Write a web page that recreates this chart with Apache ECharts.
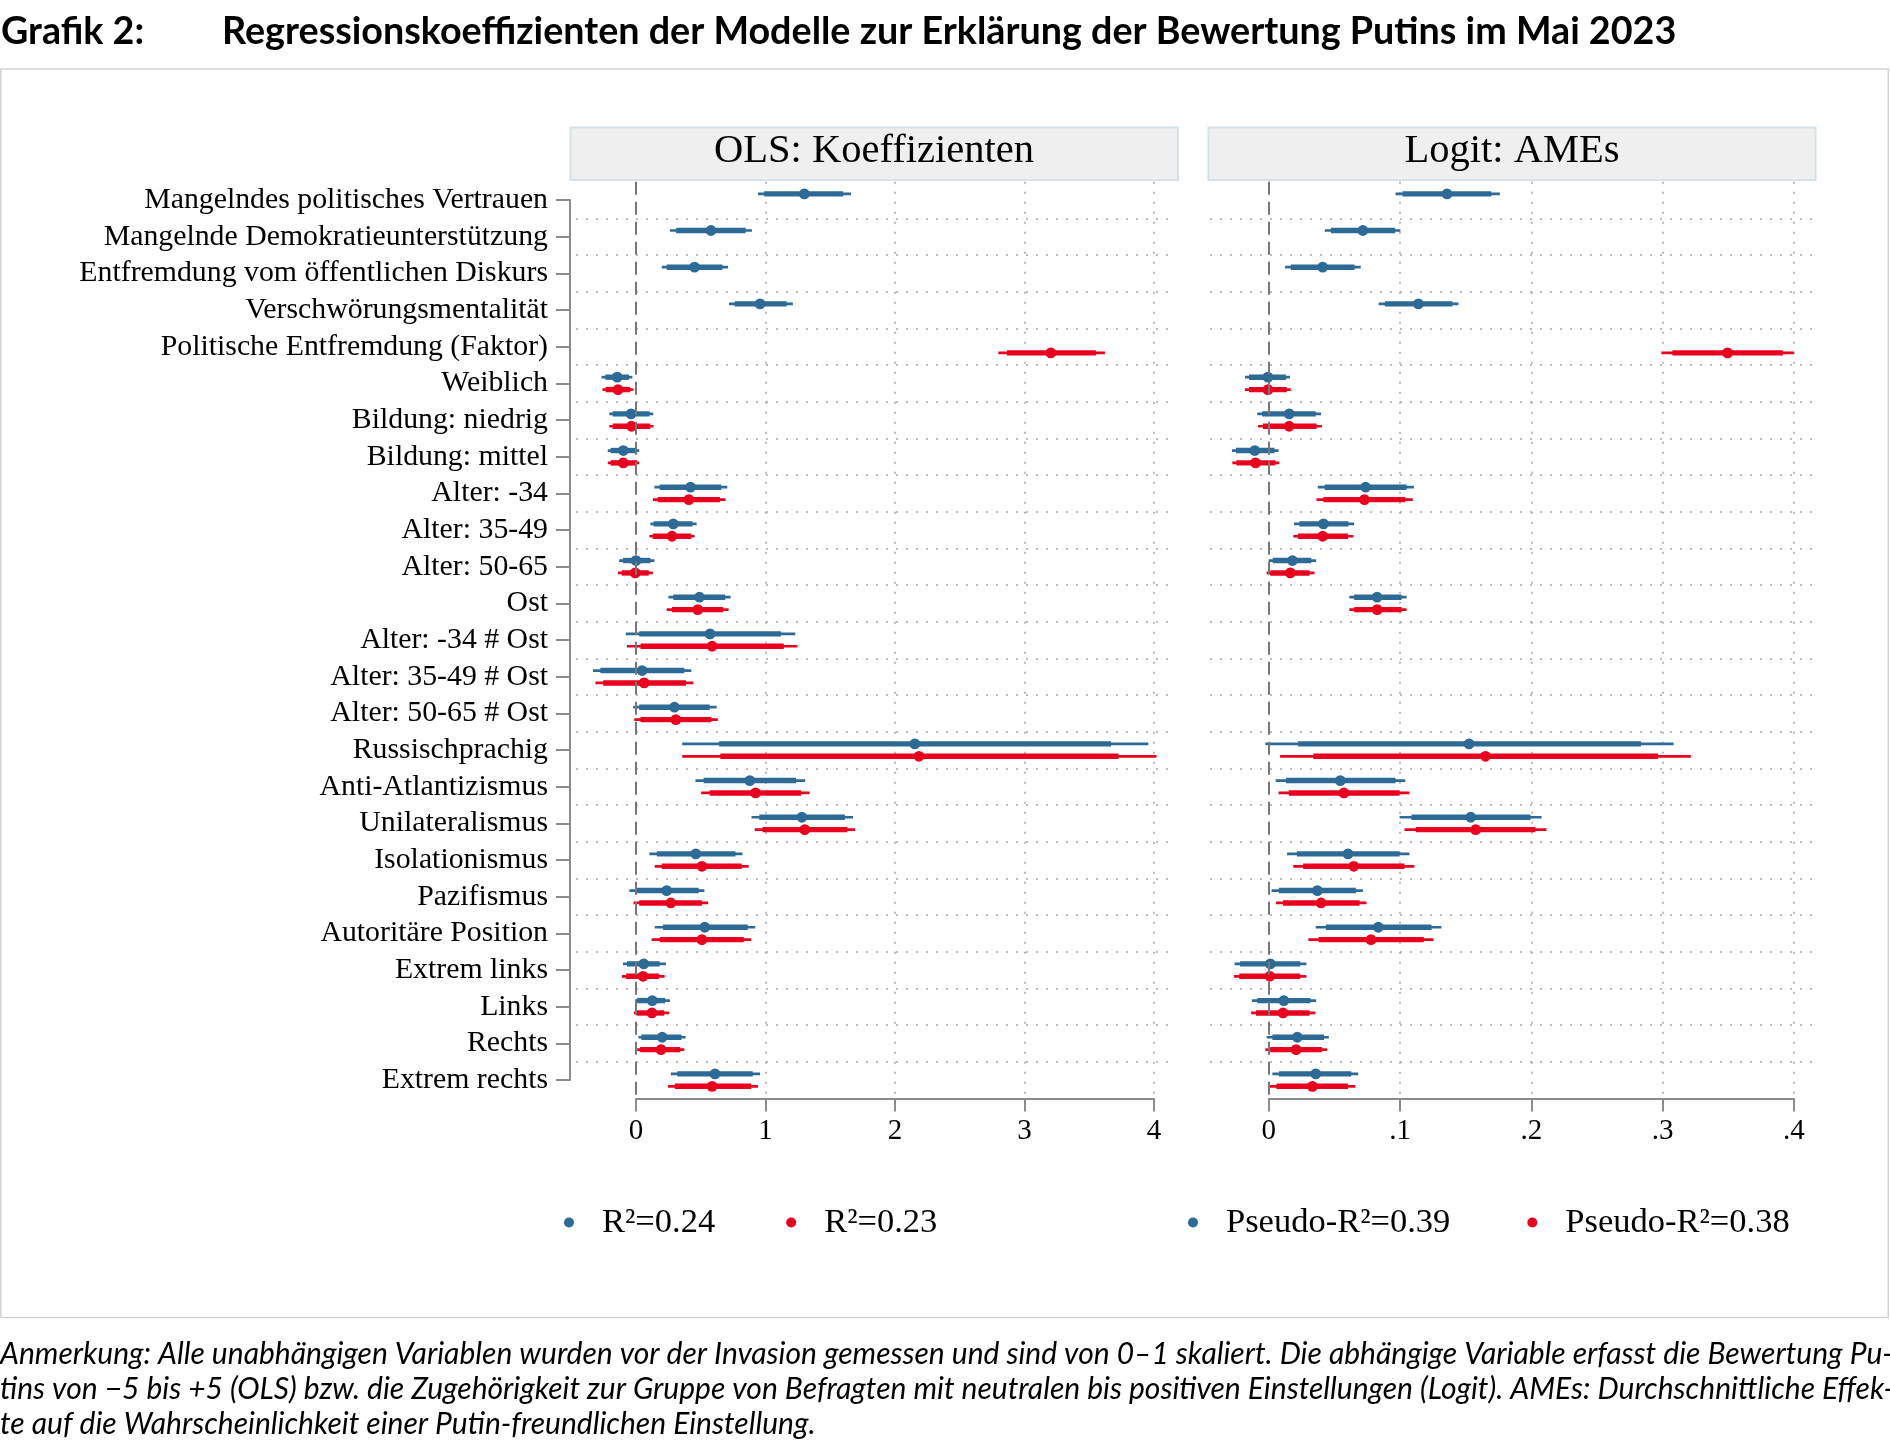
<!DOCTYPE html>
<html>
<head>
<meta charset="utf-8">
<script src="https://cdn.jsdelivr.net/npm/echarts@6/dist/echarts.min.js"></script>
<style>html,body{margin:0;padding:0;background:#fff}#c{width:1890px;height:1446px}</style>
</head>
<body>
<div id="c"></div>
<script>
// ---------- data ----------
const categories = [
  'Mangelndes politisches Vertrauen','Mangelnde Demokratieunterstützung','Entfremdung vom öffentlichen Diskurs',
  'Verschwörungsmentalität','Politische Entfremdung (Faktor)','Weiblich','Bildung: niedrig','Bildung: mittel',
  'Alter: -34','Alter: 35-49','Alter: 50-65','Ost','Alter: -34 # Ost','Alter: 35-49 # Ost','Alter: 50-65 # Ost',
  'Russischprachig','Anti-Atlantizismus','Unilateralismus','Isolationismus','Pazifismus','Autoritäre Position',
  'Extrem links','Links','Rechts','Extrem rechts'
];
const olsTicks = [0, 1, 2, 3, 4];
const logitTicks = [0, 0.1, 0.2, 0.3, 0.4];
const legendNames = ['R²=0.24', 'R²=0.23', 'Pseudo-R²=0.39', 'Pseudo-R²=0.38'];

// OLS, model 1 (blue)
const olsBlueEst  = [1.300,0.579,0.452,0.958,null,-0.145,-0.038,-0.098,0.421,0.288,0.000,0.490,0.572,0.047,0.297,2.153,0.879,1.281,0.462,0.237,0.531,0.060,0.126,0.202,0.610];
const olsBlueLo95 = [0.942,0.262,0.199,0.718,null,-0.266,-0.206,-0.218,0.142,0.111,-0.130,0.250,-0.079,-0.332,-0.022,0.357,0.459,0.892,0.104,-0.051,0.145,-0.101,-0.006,0.019,0.269];
const olsBlueHi95 = [1.660,0.895,0.711,1.211,null,-0.028,0.133,0.025,0.705,0.468,0.142,0.730,1.230,0.427,0.623,3.956,1.306,1.676,0.822,0.528,0.920,0.231,0.262,0.383,0.958];
const olsBlueLo90 = [0.990,0.310,0.237,0.762,null,-0.237,-0.180,-0.196,0.183,0.136,-0.101,0.288,0.025,-0.275,0.025,0.642,0.522,0.952,0.161,-0.006,0.209,-0.070,0.009,0.041,0.319];
const olsBlueHi90 = [1.600,0.847,0.667,1.164,null,-0.054,0.104,0.009,0.658,0.436,0.111,0.689,1.119,0.373,0.569,3.668,1.236,1.613,0.768,0.484,0.863,0.183,0.225,0.351,0.901];
// OLS, model 2 (red)
const olsRedEst  = [null,null,null,null,3.203,-0.139,-0.035,-0.098,0.408,0.278,-0.006,0.477,0.588,0.063,0.307,2.185,0.923,1.303,0.509,0.269,0.509,0.054,0.123,0.193,0.588];
const olsRedLo95 = [null,null,null,null,2.798,-0.259,-0.206,-0.218,0.130,0.104,-0.139,0.237,-0.070,-0.313,-0.013,0.357,0.503,0.917,0.145,-0.019,0.120,-0.108,-0.016,0.009,0.247];
const olsRedHi95 = [null,null,null,null,3.621,-0.019,0.136,0.025,0.692,0.452,0.130,0.715,1.246,0.443,0.632,4.019,1.341,1.692,0.870,0.557,0.889,0.221,0.256,0.373,0.942];
const olsRedLo90 = [null,null,null,null,2.865,-0.234,-0.180,-0.196,0.168,0.130,-0.111,0.278,0.035,-0.253,0.035,0.651,0.569,0.977,0.199,0.025,0.183,-0.076,0.003,0.032,0.300];
const olsRedHi90 = [null,null,null,null,3.551,-0.044,0.110,0.009,0.648,0.427,0.098,0.673,1.141,0.386,0.582,3.725,1.274,1.632,0.816,0.509,0.832,0.177,0.218,0.342,0.889];
// Logit AMEs, model 1 (blue)
const logBlueEst  = [0.1358,0.0717,0.0411,0.1140,null,-0.0006,0.0156,-0.0106,0.0738,0.0417,0.0181,0.0826,null,null,null,0.1526,0.0545,0.1539,0.0604,0.0371,0.0835,0.0012,0.0115,0.0218,0.0358];
const logBlueLo95 = [0.0966,0.0427,0.0125,0.0838,null,-0.0181,-0.0087,-0.0280,0.0374,0.0193,0.0000,0.0614,null,null,null,-0.0025,0.0053,0.0997,0.0140,0.0022,0.0358,-0.0259,-0.0128,-0.0016,0.0028];
const logBlueHi95 = [0.1760,0.1003,0.0701,0.1445,null,0.0162,0.0399,0.0075,0.1106,0.0651,0.0361,0.1050,null,null,null,0.3084,0.1040,0.2078,0.1072,0.0717,0.1315,0.0287,0.0361,0.0458,0.0682];
const logBlueLo90 = [0.1019,0.0474,0.0168,0.0885,null,-0.0150,-0.0050,-0.0249,0.0427,0.0234,0.0031,0.0651,null,null,null,0.0224,0.0131,0.1087,0.0215,0.0078,0.0436,-0.0218,-0.0087,0.0028,0.0078];
const logBlueHi90 = [0.1695,0.0963,0.0654,0.1399,null,0.0131,0.0358,0.0044,0.1050,0.0607,0.0324,0.1012,null,null,null,0.2835,0.0966,0.1994,0.0997,0.0664,0.1240,0.0240,0.0318,0.0421,0.0629];
// Logit AMEs, model 2 (red)
const logRedEst  = [null,null,null,null,0.3495,-0.0006,0.0156,-0.0100,0.0729,0.0411,0.0165,0.0826,null,null,null,0.1651,0.0573,0.1576,0.0648,0.0399,0.0779,0.0009,0.0109,0.0209,0.0333];
const logRedLo95 = [null,null,null,null,0.2991,-0.0181,-0.0081,-0.0277,0.0364,0.0187,-0.0016,0.0614,null,null,null,0.0087,0.0075,0.1034,0.0187,0.0056,0.0302,-0.0265,-0.0134,-0.0025,0.0009];
const logRedHi95 = [null,null,null,null,0.4000,0.0168,0.0405,0.0081,0.1097,0.0645,0.0349,0.1050,null,null,null,0.3215,0.1072,0.2115,0.1109,0.0745,0.1255,0.0287,0.0355,0.0445,0.0660];
const logRedLo90 = [null,null,null,null,0.3075,-0.0150,-0.0044,-0.0246,0.0417,0.0224,0.0012,0.0651,null,null,null,0.0340,0.0153,0.1121,0.0262,0.0109,0.0380,-0.0224,-0.0097,0.0012,0.0059];
const logRedHi90 = [null,null,null,null,0.3916,0.0137,0.0364,0.0050,0.1040,0.0604,0.0312,0.1012,null,null,null,0.2966,0.0997,0.2031,0.1034,0.0692,0.1181,0.0240,0.0312,0.0405,0.0604];

// ---------- styling ----------
const BLUE = '#2d6a96', RED = '#e8001e';
const SERIF = '"Liberation Serif", "Times New Roman", serif';
const AXIS_GRAY = '#8c8c8c', GRID_GRAY = '#a8a8a8';

function rows(est, lo95, hi95, lo90, hi90) {
  const out = [];
  for (let i = 0; i < est.length; i++) {
    if (est[i] !== null) out.push([i, est[i], lo95[i], hi95[i], lo90[i], hi90[i]]);
  }
  return out;
}
function ciRender(sign, color) {
  return function (params, api) {
    const r = api.value(0);
    const band = api.size([0, 1])[1];
    const y = api.coord([0, r])[1] + sign * band * 0.169;
    const x = v => api.coord([v, r])[0];
    return {
      type: 'group',
      children: [
        { type: 'line', shape: { x1: x(api.value(2)), y1: y, x2: x(api.value(3)), y2: y }, style: { stroke: color, lineWidth: 2.7 } },
        { type: 'line', shape: { x1: x(api.value(4)), y1: y, x2: x(api.value(5)), y2: y }, style: { stroke: color, lineWidth: 5.4 } },
        { type: 'circle', shape: { cx: x(api.value(1)), cy: y, r: 5.4 }, style: { fill: color } }
      ]
    };
  };
}
const TOP = 181.7, ROWH = 36.67, H = ROWH * categories.length;

const dotted = { show: true, interval: 0, showMinLine: false, showMaxLine: false, lineStyle: { color: GRID_GRAY, type: [2, 8], width: 1.6 } };
const vdotted = { show: true, showMinLine: false, showMaxLine: true, lineStyle: { color: GRID_GRAY, type: [2, 8], width: 1.6 } };
const zeroLine = {
  silent: true, symbol: 'none', label: { show: false },
  lineStyle: { color: '#777777', type: [13, 7], width: 2 },
  data: [{ xAxis: 0 }]
};
const hiddenX = { type: 'value', show: false, min: 0, max: 1 };
function catY(gridIndex, extra) {
  return Object.assign({
    type: 'category', gridIndex, data: categories, inverse: true, boundaryGap: true,
    axisLine: { show: false }, axisTick: { show: false }, axisLabel: { show: false }, splitLine: { show: false }
  }, extra || {});
}
function valueX(gridIndex, ticks, fmt) {
  return {
    type: 'value', gridIndex, min: ticks[0], max: ticks[ticks.length - 1], interval: ticks[1] - ticks[0],
    axisLine: { show: true, lineStyle: { color: AXIS_GRAY, width: 2 } },
    axisTick: { show: true, length: 13, lineStyle: { color: AXIS_GRAY, width: 2 } },
    axisLabel: { show: true, margin: 18, color: '#000', fontFamily: SERIF, fontSize: 29, formatter: fmt },
    splitLine: vdotted
  };
}

const chart = echarts.init(document.getElementById('c'), null, { renderer: 'canvas' });
chart.setOption({
  animation: false,
  backgroundColor: '#fff',
  grid: [
    { left: 576, top: TOP, width: 598, height: H },          // 0: OLS horizontal grid lines
    { left: 636, top: TOP, width: 518, height: H },          // 1: OLS data + x axis
    { left: 1210, top: TOP, width: 602, height: H },         // 2: Logit horizontal grid lines
    { left: 1268.7, top: TOP, width: 525.2, height: H },     // 3: Logit data + x axis
    { left: 570, top: TOP + ROWH / 2, width: 10, height: H - ROWH } // 4: y labels / axis
  ],
  xAxis: [
    Object.assign({ gridIndex: 0 }, hiddenX),
    valueX(1, olsTicks, v => String(Math.round(v))),
    Object.assign({ gridIndex: 2 }, hiddenX),
    valueX(3, logitTicks, v => (Math.abs(v) < 1e-9 ? '0' : v.toFixed(1).replace(/^0/, ''))),
    Object.assign({ gridIndex: 4 }, hiddenX)
  ],
  yAxis: [
    catY(0, { splitLine: dotted }),
    catY(1),
    catY(2, { splitLine: dotted }),
    catY(3),
    catY(4, {
      boundaryGap: false,
      axisLine: { show: true, lineStyle: { color: AXIS_GRAY, width: 2 } },
      axisTick: { show: true, length: 14, interval: 0, lineStyle: { color: AXIS_GRAY, width: 2 } },
      axisLabel: { show: true, interval: 0, margin: 22, color: '#000', fontFamily: SERIF, fontSize: 29.8 }
    })
  ],
  legend: [
    {
      data: [legendNames[0], legendNames[1]], left: 564, top: 1205, padding: 0,
      icon: 'circle', itemWidth: 10, itemHeight: 10, itemGap: 71,
      textStyle: { fontFamily: SERIF, fontSize: 34.5, color: '#000', padding: [0, 0, 0, 23] }
    },
    {
      data: [legendNames[2], legendNames[3]], left: 1188, top: 1205, padding: 0,
      icon: 'circle', itemWidth: 10, itemHeight: 10, itemGap: 77,
      textStyle: { fontFamily: SERIF, fontSize: 34.5, color: '#000', padding: [0, 0, 0, 23] }
    }
  ],
  series: [
    { type: 'custom', name: legendNames[0], xAxisIndex: 1, yAxisIndex: 1, clip: false, itemStyle: { color: BLUE },
      encode: { x: [1, 2, 3, 4, 5], y: 0 }, renderItem: ciRender(-1, BLUE),
      data: rows(olsBlueEst, olsBlueLo95, olsBlueHi95, olsBlueLo90, olsBlueHi90), markLine: zeroLine, z: 3 },
    { type: 'custom', name: legendNames[1], xAxisIndex: 1, yAxisIndex: 1, clip: false, itemStyle: { color: RED },
      encode: { x: [1, 2, 3, 4, 5], y: 0 }, renderItem: ciRender(1, RED),
      data: rows(olsRedEst, olsRedLo95, olsRedHi95, olsRedLo90, olsRedHi90), z: 3 },
    { type: 'custom', name: legendNames[2], xAxisIndex: 3, yAxisIndex: 3, clip: false, itemStyle: { color: BLUE },
      encode: { x: [1, 2, 3, 4, 5], y: 0 }, renderItem: ciRender(-1, BLUE),
      data: rows(logBlueEst, logBlueLo95, logBlueHi95, logBlueLo90, logBlueHi90), markLine: zeroLine, z: 3 },
    { type: 'custom', name: legendNames[3], xAxisIndex: 3, yAxisIndex: 3, clip: false, itemStyle: { color: RED },
      encode: { x: [1, 2, 3, 4, 5], y: 0 }, renderItem: ciRender(1, RED),
      data: rows(logRedEst, logRedLo95, logRedHi95, logRedLo90, logRedHi90), z: 3 }
  ],
  graphic: [
    { type: 'rect', z: -10, shape: { x: 0.75, y: 69, width: 1887.5, height: 1248.5 }, style: { fill: 'none', stroke: '#d4d4d4', lineWidth: 1.5 } },
    { type: 'text', style: { x: 1, y: 31.5, text: 'Grafik 2:', fontFamily: 'Lato', fontWeight: 'bold', fontSize: 37.7, fill: '#000', verticalAlign: 'middle' } },
    { type: 'text', style: { x: 222, y: 31.5, text: 'Regressionskoeffizienten der Modelle zur Erklärung der Bewertung Putins im Mai 2023', fontFamily: 'Lato', fontWeight: 'bold', fontSize: 37.7, fill: '#000', verticalAlign: 'middle' } },
    { type: 'rect', shape: { x: 570.5, y: 127.5, width: 607.5, height: 52.5 }, style: { fill: '#efefef', stroke: '#d6e2ea', lineWidth: 2 } },
    { type: 'text', style: { x: 874, y: 151.5, text: 'OLS: Koeffizienten', fontFamily: SERIF, fontSize: 40.5, fill: '#000', align: 'center', verticalAlign: 'middle' } },
    { type: 'rect', shape: { x: 1208.5, y: 127.5, width: 607, height: 52.5 }, style: { fill: '#efefef', stroke: '#d6e2ea', lineWidth: 2 } },
    { type: 'text', style: { x: 1512, y: 151.5, text: 'Logit: AMEs', fontFamily: SERIF, fontSize: 40.5, fill: '#000', align: 'center', verticalAlign: 'middle' } },
    { type: 'text', style: { x: 0, y: 1354, text: 'Anmerkung: Alle unabhängigen Variablen wurden vor der Invasion gemessen und sind von 0–1 skaliert. Die abhängige Variable erfasst die Bewertung Pu-', fontFamily: 'Lato', fontStyle: 'italic', fontSize: 30, fill: '#000', verticalAlign: 'middle' } },
    { type: 'text', style: { x: 0, y: 1389, text: 'tins von −5 bis +5 (OLS) bzw. die Zugehörigkeit zur Gruppe von Befragten mit neutralen bis positiven Einstellungen (Logit). AMEs: Durchschnittliche Effek-', fontFamily: 'Lato', fontStyle: 'italic', fontSize: 30, fill: '#000', verticalAlign: 'middle' } },
    { type: 'text', style: { x: 0, y: 1424, text: 'te auf die Wahrscheinlichkeit einer Putin-freundlichen Einstellung.', fontFamily: 'Lato', fontStyle: 'italic', fontSize: 30, fill: '#000', verticalAlign: 'middle' } }
  ]
});
</script>
</body>
</html>
